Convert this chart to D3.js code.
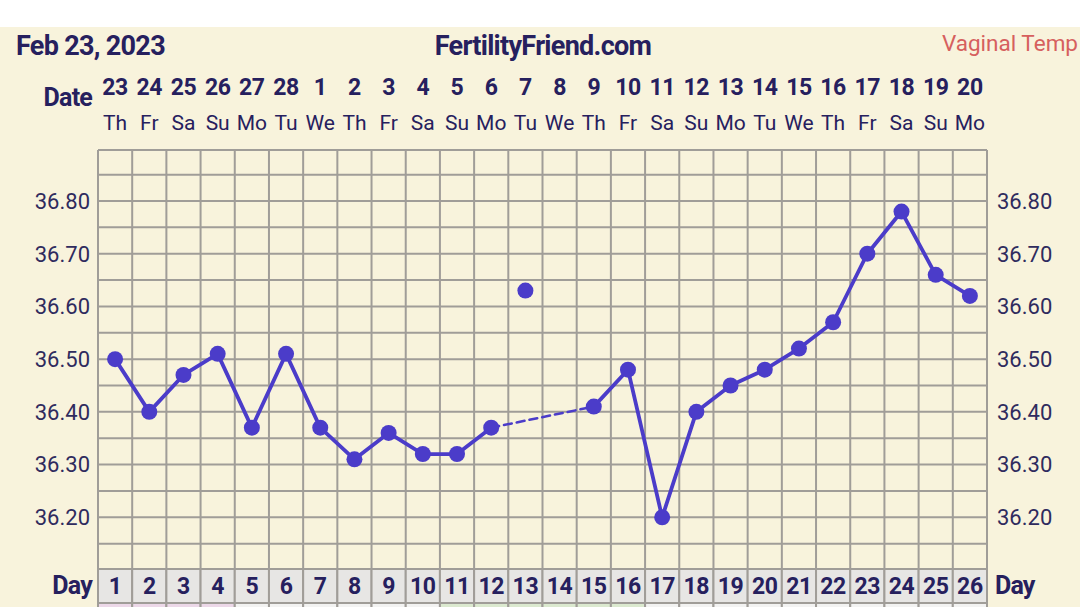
<!DOCTYPE html>
<html><head><meta charset="utf-8">
<script src="https://cdn.jsdelivr.net/npm/d3@7"></script>
<style>html,body{margin:0;padding:0;background:#fff;}svg{display:block;}</style>
</head><body>
<script>
const days = d3.range(1, 27);
const dates = ["23","24","25","26","27","28","1","2","3","4","5","6","7","8","9","10","11","12","13","14","15","16","17","18","19","20"];
const weekdays = ["Th","Fr","Sa","Su","Mo","Tu","We","Th","Fr","Sa","Su","Mo","Tu","We","Th","Fr","Sa","Su","Mo","Tu","We","Th","Fr","Sa","Su","Mo"];
const temps = [36.50,36.40,36.47,36.51,36.37,36.51,36.37,36.31,36.36,36.32,36.32,36.37,36.63,null,36.41,36.48,36.20,36.40,36.45,36.48,36.52,36.57,36.70,36.78,36.66,36.62];
const discardedDays = [13];
const yTicks = [36.20,36.30,36.40,36.50,36.60,36.70,36.80];
const stripPink = [1,2,3,4];
const stripGreen = [11,12,13,14,15,16];

const W = 1080, H = 607;
const cream = "#f8f3dc", navy = "#26205e", grid = "#a09d98", lineC = "#4b3cc9";
const svg = d3.select("body").append("svg").attr("width", W).attr("height", H);
svg.append("rect").attr("width", W).attr("height", H).attr("fill", "#fff");
svg.append("rect").attr("y", 27).attr("width", W).attr("height", H - 27).attr("fill", cream);

const x = d3.scaleBand().domain(days).range([98, 987]).padding(0);
const y = d3.scaleLinear().domain([36.10, 36.80]).range([570, 201]);
const gridTop = 150;
const cx = d => x(d) + x.bandwidth() / 2;

// grid
const g = svg.append("g");
const gridVals = d3.range(36.15, 36.86, 0.05);
g.selectAll("line.h").data(gridVals).join("line")
  .attr("x1", 98).attr("x2", 987).attr("y1", d => y(d)).attr("y2", d => y(d))
  .attr("stroke", grid).attr("stroke-width", 2);
g.append("line").attr("x1", 98).attr("x2", 987).attr("y1", gridTop).attr("y2", gridTop).attr("stroke", grid).attr("stroke-width", 2);
g.selectAll("line.v").data(d3.range(0, 27)).join("line")
  .attr("x1", i => i < 26 ? x(i + 1) : 987).attr("x2", i => i < 26 ? x(i + 1) : 987)
  .attr("y1", gridTop).attr("y2", 570)
  .attr("stroke", grid).attr("stroke-width", 2);

// day row
const rowTop = 569, rowH = 34;
svg.selectAll("rect.day").data(days).join("rect")
  .attr("x", d => x(d)).attr("y", rowTop).attr("width", x.bandwidth()).attr("height", rowH)
  .attr("fill", "#e7e6e4").attr("stroke", grid).attr("stroke-width", 2);
svg.selectAll("rect.strip").data(days).join("rect")
  .attr("x", d => x(d)).attr("y", rowTop + rowH).attr("width", x.bandwidth()).attr("height", 12)
  .attr("fill", d => stripPink.includes(d) ? "#ecd8e8" : stripGreen.includes(d) ? "#dbe9cf" : "#f3f3f2")
  .attr("stroke", grid).attr("stroke-width", 2);
svg.selectAll("text.dayn").data(days).join("text")
  .attr("x", d => cx(d)).attr("y", rowTop + 17).attr("dy", "0.36em")
  .attr("text-anchor", "middle").attr("font-family", "Roboto").attr("font-weight", 700)
  .attr("font-size", 23).attr("fill", navy).attr("letter-spacing", -0.4).text(d => d);
svg.append("text").attr("x", 92).attr("y", 585).attr("dy", "0.36em").attr("text-anchor", "end")
  .attr("font-family", "Roboto").attr("font-weight", 700).attr("font-size", 25).attr("fill", navy)
  .attr("letter-spacing", -0.8).text("Day");
svg.append("text").attr("x", 995).attr("y", 585).attr("dy", "0.36em").attr("text-anchor", "start")
  .attr("font-family", "Roboto").attr("font-weight", 700).attr("font-size", 25).attr("fill", navy)
  .attr("letter-spacing", -0.8).text("Day");

// y labels
svg.selectAll("text.yl").data(yTicks).join("text")
  .attr("x", 90).attr("y", d => y(d)).attr("dy", "0.36em").attr("text-anchor", "end")
  .attr("font-family", "Roboto").attr("font-size", 22).attr("fill", "#2f2b5e").text(d => d.toFixed(2));
svg.selectAll("text.yr").data(yTicks).join("text")
  .attr("x", 997).attr("y", d => y(d)).attr("dy", "0.36em").attr("text-anchor", "start")
  .attr("font-family", "Roboto").attr("font-size", 22).attr("fill", "#2f2b5e").text(d => d.toFixed(2));

// header
svg.append("text").attr("x", 16).attr("y", 45).attr("dy", "0.36em")
  .attr("font-family", "Roboto").attr("font-weight", 700).attr("font-size", 27).attr("fill", navy)
  .attr("letter-spacing", -0.7).text("Feb 23, 2023");
svg.append("text").attr("x", 543).attr("y", 45).attr("dy", "0.36em").attr("text-anchor", "middle")
  .attr("font-family", "Roboto").attr("font-weight", 700).attr("font-size", 27).attr("fill", navy)
  .attr("letter-spacing", -0.7).text("FertilityFriend.com");
svg.append("text").attr("x", 1078).attr("y", 43).attr("dy", "0.36em").attr("text-anchor", "end")
  .attr("font-family", "Roboto").attr("font-size", 22.5).attr("fill", "#d6605e").text("Vaginal Temp");
svg.append("text").attr("x", 92).attr("y", 97).attr("dy", "0.36em").attr("text-anchor", "end")
  .attr("font-family", "Roboto").attr("font-weight", 700).attr("font-size", 25).attr("fill", navy)
  .attr("letter-spacing", -0.8).text("Date");
svg.selectAll("text.dt").data(days).join("text")
  .attr("x", d => cx(d)).attr("y", 87).attr("dy", "0.36em").attr("text-anchor", "middle")
  .attr("font-family", "Roboto").attr("font-weight", 700).attr("font-size", 23).attr("fill", navy)
  .attr("letter-spacing", -0.4).text((d, i) => dates[i]);
svg.selectAll("text.wd").data(days).join("text")
  .attr("x", d => cx(d)).attr("y", 122).attr("dy", "0.36em").attr("text-anchor", "middle")
  .attr("font-family", "Roboto").attr("font-size", 21).attr("fill", navy).text((d, i) => weekdays[i]);

// data
const pts = days.map((d, i) => ({ day: d, t: temps[i] })).filter(p => p.t !== null);
const valid = pts.filter(p => !discardedDays.includes(p.day));
const segs = [];
for (let i = 1; i < valid.length; i++) {
  segs.push({ a: valid[i - 1], b: valid[i], dashed: valid[i].day - valid[i - 1].day > 1 });
}
svg.selectAll("line.seg").data(segs).join("line")
  .attr("x1", s => cx(s.a.day)).attr("y1", s => y(s.a.t))
  .attr("x2", s => cx(s.b.day)).attr("y2", s => y(s.b.t))
  .attr("stroke", lineC).attr("stroke-width", s => s.dashed ? 2.5 : 3.8)
  .attr("stroke-dasharray", s => s.dashed ? "8,5" : null).attr("stroke-linecap", "round");
svg.selectAll("circle.pt").data(pts).join("circle")
  .attr("cx", p => cx(p.day)).attr("cy", p => y(p.t)).attr("r", 8).attr("fill", lineC);
</script>
</body></html>
